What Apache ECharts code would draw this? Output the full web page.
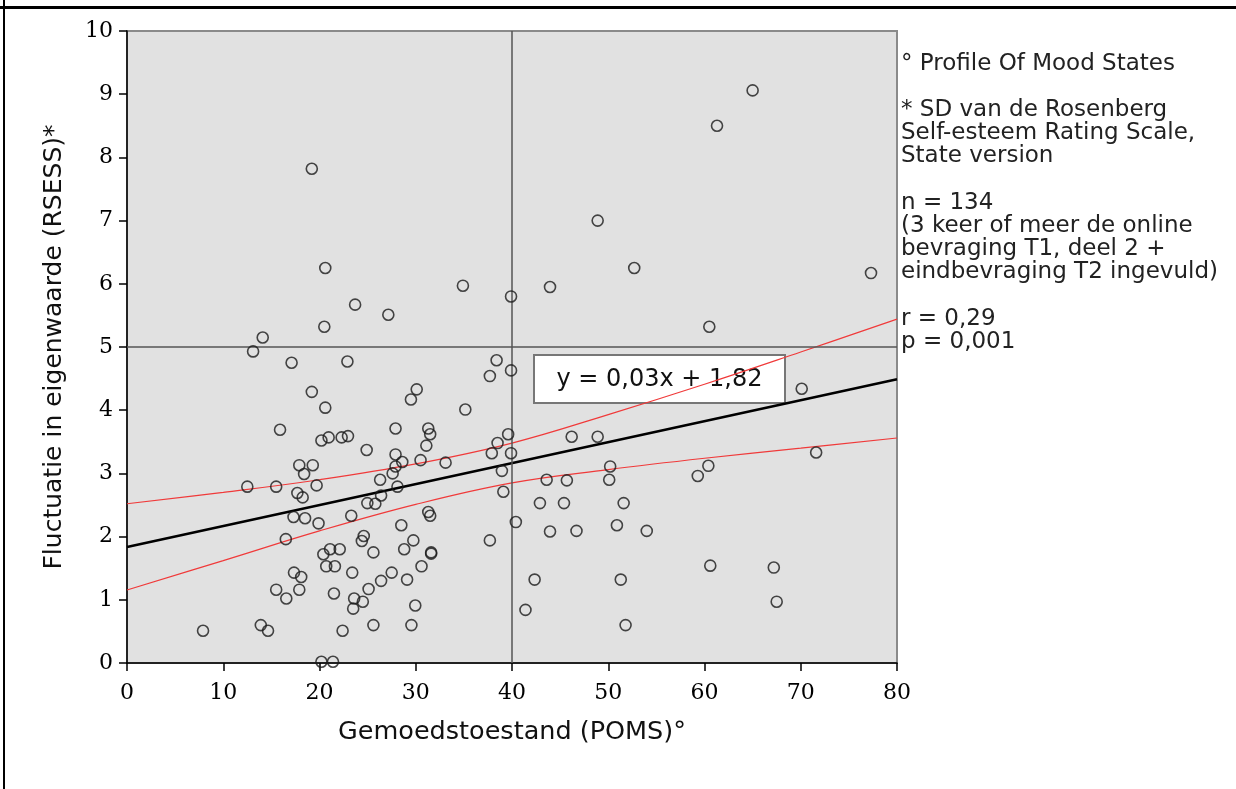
<!DOCTYPE html>
<html>
<head>
<meta charset="utf-8">
<script src="https://cdn.jsdelivr.net/npm/echarts@6/dist/echarts.min.js"></script>
<style>
html,body{margin:0;padding:0;background:#fff;}
#chart{width:1236px;height:789px;}
</style>
</head>
<body>
<div id="chart"></div>
<script>
// Scatter points [POMS, SD RSESS]
const pomsX = [7.9,19.2,20.6,23.7,20.5,27.15,34.9,39.9,43.95,48.9,52.7,61.3,65.0,77.3,60.5,14.1,13.1,17.1,22.9,19.2,
  20.6,15.9,20.2,20.95,22.3,22.96,24.9,17.9,19.3,18.4,12.5,15.5,19.7,17.7,18.25,26.3,24.97,25.8,17.3,18.5,
  19.9,23.3,16.5,24.6,24.4,20.4,21.1,22.1,25.6,20.7,21.6,23.4,17.35,18.1,26.4,15.5,17.9,21.5,25.1,16.55,
  23.6,23.5,24.5,13.9,14.65,22.4,25.6,20.2,21.4,38.4,37.7,39.9,30.1,29.5,35.15,27.9,31.3,31.5,31.1,27.9,
  28.6,30.5,33.1,27.9,27.6,28.1,26.4,39.6,38.5,37.9,39.9,38.95,39.1,46.2,48.9,50.2,50.1,43.6,45.7,42.9,
  45.4,51.6,31.3,31.5,28.5,40.4,50.9,43.95,46.7,29.75,28.8,37.7,31.6,31.6,30.6,27.5,29.1,42.35,51.3,29.95,
  41.4,29.55,51.8,70.1,71.6,60.4,59.3,54.0,60.6,67.2,67.5];
const rsessY = [0.51,7.82,6.25,5.67,5.32,5.51,5.97,5.80,5.95,7.0,6.25,8.5,9.06,6.17,5.32,5.15,4.93,4.75,4.77,4.29,
  4.04,3.69,3.52,3.57,3.57,3.59,3.37,3.13,3.13,2.99,2.79,2.79,2.81,2.69,2.62,2.9,2.53,2.52,2.31,2.29,
  2.21,2.33,1.96,2.01,1.93,1.72,1.80,1.80,1.75,1.53,1.53,1.43,1.43,1.36,1.30,1.16,1.16,1.10,1.17,1.02,
  1.02,0.86,0.97,0.60,0.51,0.51,0.60,0.02,0.02,4.79,4.54,4.63,4.33,4.17,4.01,3.71,3.71,3.62,3.44,3.30,
  3.18,3.21,3.17,3.11,3.0,2.79,2.65,3.62,3.48,3.32,3.32,3.04,2.71,3.58,3.58,3.11,2.90,2.90,2.89,2.53,
  2.53,2.53,2.39,2.33,2.18,2.23,2.18,2.08,2.09,1.94,1.80,1.94,1.75,1.73,1.53,1.43,1.32,1.32,1.32,0.91,
  0.84,0.60,0.60,4.34,3.33,3.12,2.96,2.09,1.54,1.51,0.97];

// Regression line (read at the plot edges)
const regX = [0, 80];
const regY = [1.835, 4.49];

// 95% confidence band
const ciX = [0, 10, 20, 30, 40, 50, 60, 70, 80];
const ciUpper = [2.52, 2.70, 2.90, 3.15, 3.48, 3.93, 4.41, 4.92, 5.44];
const ciLower = [1.155, 1.62, 2.09, 2.51, 2.85, 3.06, 3.24, 3.40, 3.56];

// Reference lines
const refX = 40;
const refY = 5;

const xTicks = [0, 10, 20, 30, 40, 50, 60, 70, 80];
const yTicks = [0, 1, 2, 3, 4, 5, 6, 7, 8, 9, 10];

const equationText = 'y = 0,03x + 1,82';
const notes = [
  '° Profile Of Mood States',
  '',
  '* SD van de Rosenberg',
  'Self-esteem Rating Scale,',
  'State version',
  '',
  'n = 134',
  '(3 keer of meer de online',
  'bevraging T1, deel 2 +',
  'eindbevraging T2 ingevuld)',
  '',
  'r = 0,29',
  'p = 0,001'
];
const xTitle = 'Gemoedstoestand (POMS)°';
const yTitle = 'Fluctuatie in eigenwaarde (RSESS)*';

const pts = pomsX.map((x, i) => [x, rsessY[i]]);
const zip = (a, b) => a.map((v, i) => [v, b[i]]);

const chart = echarts.init(document.getElementById('chart'), null, {renderer: 'canvas'});
const sans = 'DejaVu Sans';
const tickFont = 'DejaVu Serif';

chart.setOption({
  animation: false,
  backgroundColor: '#ffffff',
  grid: {
    left: 127, right: 339, top: 31, bottom: 126,
    show: true, backgroundColor: '#e1e1e1', borderColor: '#8a8a8a', borderWidth: 2
  },
  xAxis: {
    type: 'value', min: 0, max: 80, interval: 10,
    name: xTitle, nameLocation: 'middle', nameGap: 56,
    nameTextStyle: {fontFamily: sans, fontSize: 25.5, color: '#111'},
    axisLine: {onZero: false, lineStyle: {color: '#000', width: 1.5}},
    axisTick: {show: true, length: 8, inside: false, lineStyle: {color: '#000', width: 1.5}},
    axisLabel: {margin: 19, fontFamily: tickFont, fontSize: 22, color: '#000',
      formatter: v => xTicks.includes(v) ? String(v) : ''},
    splitLine: {show: false}
  },
  yAxis: {
    type: 'value', min: 0, max: 10, interval: 1,
    name: yTitle, nameLocation: 'middle', nameGap: 60, nameRotate: 90,
    nameTextStyle: {fontFamily: sans, fontSize: 25, color: '#111'},
    axisLine: {onZero: false, lineStyle: {color: '#000', width: 1.5}},
    axisTick: {show: true, length: 8, inside: false, lineStyle: {color: '#000', width: 1.5}},
    axisLabel: {margin: 14, fontFamily: tickFont, fontSize: 22, color: '#000',
      formatter: v => yTicks.includes(v) ? String(v) : ''},
    splitLine: {show: false}
  },
  series: [
    {
      type: 'line', data: [], silent: true, z: 1,
      markLine: {
        silent: true, symbol: 'none', label: {show: false},
        lineStyle: {color: '#555', width: 1.5, type: 'solid'},
        data: [{xAxis: refX}, {yAxis: refY}]
      }
    },
    {
      type: 'line', data: zip(ciX, ciUpper), smooth: 0.4, showSymbol: false, silent: true, z: 3,
      lineStyle: {color: '#f03a3a', width: 1.2}
    },
    {
      type: 'line', data: zip(ciX, ciLower), smooth: 0.4, showSymbol: false, silent: true, z: 3,
      lineStyle: {color: '#f03a3a', width: 1.2}
    },
    {
      type: 'line', data: zip(regX, regY), showSymbol: false, silent: true, z: 4,
      lineStyle: {color: '#000', width: 2.5}
    },
    {
      type: 'scatter', data: pts, symbol: 'circle', symbolSize: 11, z: 5,
      itemStyle: {color: 'rgba(0,0,0,0)', borderColor: '#1a1a1a', borderWidth: 1.6}
    }
  ],
  graphic: [
    {type: 'rect', shape: {x: 0, y: 6, width: 1236, height: 3}, style: {fill: '#000'}, z: 100},
    {type: 'rect', shape: {x: 3, y: 0, width: 2, height: 789}, style: {fill: '#000'}, z: 100},
    {
      type: 'group', left: 533, top: 354, z: 50,
      children: [
        {type: 'rect', shape: {x: 0, y: 0, width: 251, height: 48},
          style: {fill: '#fff', stroke: '#777', lineWidth: 2}},
        {type: 'text', x: 125.5, y: 25,
          style: {text: equationText, fontFamily: sans, fontSize: 24, fill: '#111',
            align: 'center', verticalAlign: 'middle'}}
      ]
    },
    {
      type: 'text', left: 901, top: 52, z: 50,
      style: {text: notes.join('\n'), fontFamily: sans, fontSize: 23, lineHeight: 23.2, fill: '#222'}
    }
  ]
});
</script>
</body>
</html>
